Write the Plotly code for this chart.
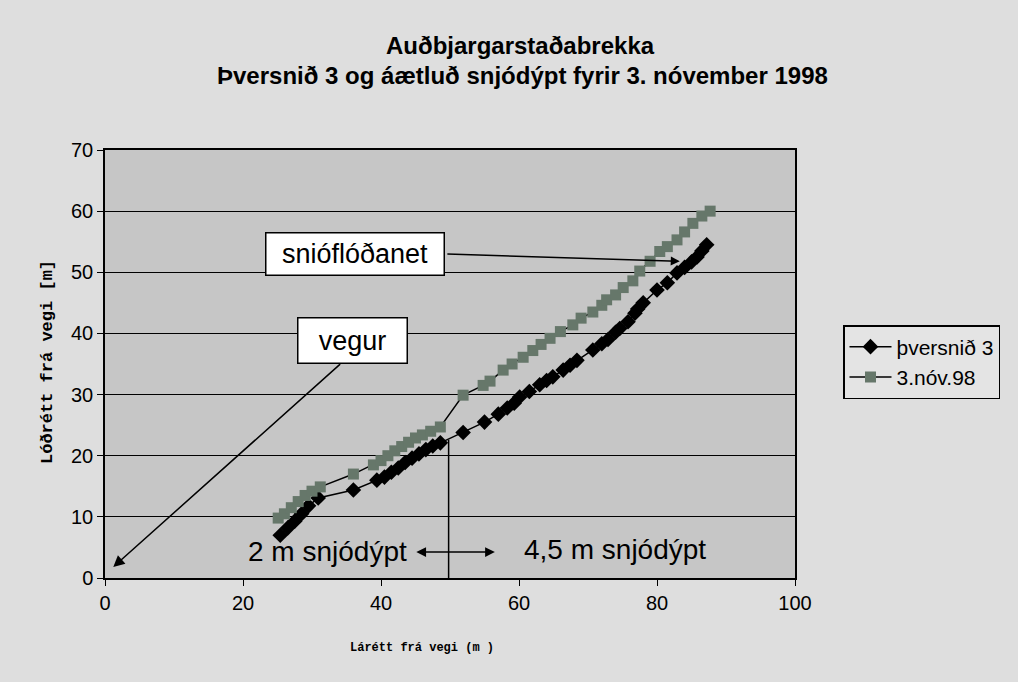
import plotly.graph_objects as go

# Þversnið 3 (black diamonds)
prof_x = [25.4, 26.5, 27.5, 28.5, 29.5, 30.9, 36.0, 39.4, 40.5, 41.5, 42.5, 43.5, 44.5, 45.5,
          46.5, 47.5, 48.6, 51.9, 55.0, 57.0, 58.3, 59.3, 60.1, 61.5, 63.0, 64.0, 64.9, 66.4,
          67.4, 68.4, 70.7, 72.0, 72.9, 74.0, 74.6, 75.8, 76.8, 77.2, 78.0, 80.0, 81.5, 82.9,
          84.0, 85.0, 85.8, 86.5, 87.2]
prof_y = [7.0, 8.2, 9.3, 10.5, 11.8, 13.1, 14.4, 16.0, 16.5, 17.3, 18.0, 18.9, 19.6, 20.3,
          21.0, 21.6, 22.1, 23.8, 25.5, 26.8, 27.8, 28.6, 29.6, 30.5, 31.6, 32.3, 32.9, 34.0,
          34.8, 35.6, 37.3, 38.3, 39.0, 40.2, 40.8, 41.9, 43.3, 44.0, 45.0, 47.1, 48.3, 49.9,
          50.8, 51.7, 52.5, 53.5, 54.5]

# 3.nóv.98 (grey squares)
snow_x = [25.1, 26.0, 27.0, 28.0, 29.0, 30.0, 31.2, 36.0, 38.9, 40.0, 41.0, 42.0, 43.0, 44.0,
          45.0, 46.0, 47.2, 48.6, 51.9, 54.8, 55.8, 57.7, 59.0, 60.6, 62.0, 63.2, 64.5, 66.0,
          67.8, 69.0, 70.7, 72.0, 72.7, 74.0, 75.1, 76.5, 77.5, 79.0, 80.4, 81.5, 82.9, 84.0,
          85.2, 86.5, 87.7]
snow_y = [9.8, 10.5, 11.5, 12.5, 13.5, 14.2, 14.9, 17.0, 18.5, 19.2, 20.0, 20.8, 21.5, 22.2,
          22.9, 23.4, 24.0, 24.7, 29.9, 31.5, 32.2, 34.0, 35.0, 36.1, 37.2, 38.2, 39.2, 40.3,
          41.4, 42.5, 43.5, 44.6, 45.5, 46.3, 47.5, 48.6, 50.2, 51.8, 53.4, 54.2, 55.3, 56.6,
          58.0, 59.2, 60.0]

x_ticks = [0, 20, 40, 60, 80, 100]
y_ticks = [0, 10, 20, 30, 40, 50, 60, 70]

title_lines = ["Auðbjargarstaðabrekka", "Þversnið 3 og áætluð snjódýpt fyrir 3. nóvember 1998"]
x_title = "Lárétt frá vegi (m )"
y_title = "Lóðrétt frá vegi [m]"
series_names = ["þversnið 3", "3.nóv.98"]

SANS = "Liberation Sans, Arial"
MONO = "Liberation Mono, Courier New"

fig = go.Figure()
fig.add_trace(go.Scatter(
    x=prof_x, y=prof_y, name=series_names[0], mode="lines+markers",
    line=dict(color="black", width=1.5),
    marker=dict(symbol="diamond", size=12, color="black"),
))
fig.add_trace(go.Scatter(
    x=snow_x, y=snow_y, name=series_names[1], mode="lines+markers",
    line=dict(color="black", width=1.5),
    marker=dict(symbol="square", size=11, color="#66776a"),
))

# vertical divider at 50 m
fig.add_shape(type="line", x0=49.8, x1=49.8, y0=0, y1=22.6, xref="x", yref="y",
              line=dict(color="black", width=1.5))

ann_font = dict(family=SANS, size=27, color="black")
annotations = [
    dict(x=36.2, y=53, xref="x", yref="y", text="snióflóðanet", showarrow=False,
         font=ann_font, bgcolor="white", bordercolor="black", borderwidth=1.5,
         borderpad=3, width=171, height=35),
    dict(x=35.8, y=38.9, xref="x", yref="y", text="vegur", showarrow=False,
         font=ann_font, bgcolor="white", bordercolor="black", borderwidth=1.5,
         borderpad=3, width=102, height=38),
    dict(x=83.3, y=51.8, ax=49.4, ay=53.0, xref="x", yref="y", axref="x", ayref="y",
         text="", showarrow=True, arrowhead=2, arrowsize=1.2, arrowwidth=1.5, arrowcolor="black"),
    dict(x=1.2, y=1.8, ax=34.3, ay=35.2, xref="x", yref="y", axref="x", ayref="y",
         text="", showarrow=True, arrowhead=2, arrowsize=1.5, arrowwidth=1.5, arrowcolor="black"),
    dict(x=56.5, y=4.25, ax=44.9, ay=4.25, xref="x", yref="y", axref="x", ayref="y",
         text="", showarrow=True, arrowhead=2, startarrowhead=2, arrowside="end+start",
         arrowsize=1.3, startarrowsize=1.3, arrowwidth=1.5, arrowcolor="black"),
    dict(x=32.2, y=4.3, xref="x", yref="y", text="2 m snjódýpt", showarrow=False,
         font=dict(family=SANS, size=28, color="black")),
    dict(x=73.9, y=4.6, xref="x", yref="y", text="4,5 m snjódýpt", showarrow=False,
         font=dict(family=SANS, size=28, color="black")),
    dict(x=(520 - 105) / 690, y=(578 - 45) / 428, xref="paper", yref="paper", xanchor="center",
         yanchor="middle", text="<b>" + title_lines[0] + "</b>", showarrow=False,
         font=dict(family=SANS, size=24, color="black")),
    dict(x=(522 - 105) / 690, y=(578 - 75) / 428, xref="paper", yref="paper", xanchor="center",
         yanchor="middle", text="<b>" + title_lines[1] + "</b>", showarrow=False,
         font=dict(family=SANS, size=24, color="black")),
    dict(x=(422 - 105) / 690, y=(578 - 648) / 428, xref="paper", yref="paper",
         xanchor="center", yanchor="middle", text="<b>" + x_title + "</b>", showarrow=False,
         font=dict(family=MONO, size=12, color="black")),
    dict(x=(47 - 105) / 690, y=(578 - 362) / 428, xref="paper", yref="paper",
         xanchor="center", yanchor="middle", text="<b>" + y_title + "</b>", showarrow=False,
         textangle=-90, font=dict(family=MONO, size=17, color="black")),
]

fig.update_layout(
    width=1018, height=682,
    margin=dict(l=105, r=223, t=150, b=104),
    paper_bgcolor="#dedede",
    plot_bgcolor="#c6c6c6",
    font=dict(family=SANS, size=20, color="black"),
    showlegend=True,
    legend=dict(x=(843 - 105) / 690, y=(578 - 325) / 428, xanchor="left", yanchor="top",
                bgcolor="#e4e4e4", bordercolor="black", borderwidth=1.5,
                font=dict(size=21), itemwidth=42, tracegroupgap=0),
    annotations=annotations,
)
fig.update_xaxes(range=[0, 100], tickvals=x_ticks, showgrid=False, zeroline=False,
                 showline=True, linecolor="black", linewidth=1.5, mirror=True,
                 ticks="outside", ticklen=6, tickcolor="black")
fig.update_yaxes(range=[0, 70], tickvals=y_ticks, showgrid=True, gridcolor="black",
                 gridwidth=1, zeroline=False,
                 showline=True, linecolor="black", linewidth=1.5, mirror=True,
                 ticks="outside", ticklen=6, tickcolor="black")

fig.write_html("out.html", config={"displayModeBar": False},
               post_script="document.body.style.margin='0px';")
